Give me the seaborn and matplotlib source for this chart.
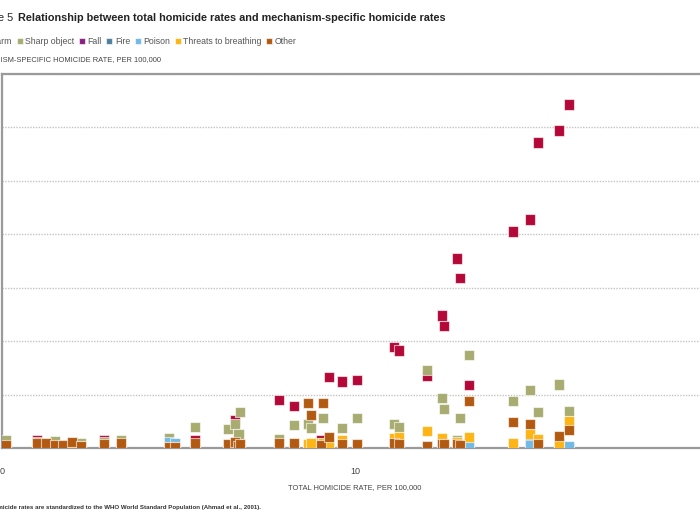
import pandas as pd
import matplotlib
matplotlib.use("Agg")
import matplotlib.pyplot as plt
import seaborn as sns

mechanisms = ["Firearm", "Sharp object", "Fall", "Fire", "Poison",
              "Threats to breathing", "Other"]
colours = ["#b30838", "#a9ac70", "#8a1e82", "#4f7f9f", "#72b9e6",
           "#fdb515", "#b35a12"]

# one entry per country: total rate and the rate for each mechanism
total_rate = [0.10, 0.99, 1.25, 1.50, 1.73, 1.98, 2.24, 2.89, 3.37, 4.73,
              4.90, 5.47, 6.40, 6.60, 6.70, 6.74, 7.85, 8.27, 8.67, 8.75,
              9.04, 9.09, 9.26, 9.63, 10.06, 11.10, 11.25, 12.04, 12.46, 12.52,
              12.89, 12.97, 13.23, 14.48, 14.96, 15.18, 15.78, 16.06]
firearm = [0.11, 0.30, 0.05, 0.05, 0.04, 0.04, 0.04, 0.30, 0.04, 0.02,
           0.02, 0.27, 0.10, 1.05, 0.05, 0.10, 1.79, 1.57, 0.10, 0.10,
           0.30, 0.10, 2.65, 2.50, 2.54, 3.78, 3.66, 2.69, 4.97, 4.56,
           7.10, 6.36, 2.36, 8.11, 8.56, 11.44, 11.89, 12.86]
sharp_object = [0.30, 0.22, 0.15, 0.26, 0.11, 0.15, 0.19, 0.22, 0.30, 0.37,
                0.15, 0.79, 0.71, 0.90, 0.52, 1.35, 0.34, 0.86, 0.90, 0.75,
                0.15, 1.12, 0.20, 0.75, 1.12, 0.90, 0.79, 2.92, 1.87, 1.46,
                0.30, 1.12, 3.48, 1.76, 2.17, 1.35, 2.37, 1.38]
fall = [0.0] * 38
fire = [0.0] * 32 + [0.19, 0.0, 0.26, 0.0, 0.0, 0.0]
poison = [0.04, 0.02, 0.04, 0.04, 0.04, 0.04, 0.04, 0.04, 0.04, 0.22,
          0.19, 0.05, 0.07, 0.05, 0.05, 0.05, 0.05, 0.05, 0.05, 0.05,
          0.05, 0.05, 0.05, 0.07, 0.07, 0.07, 0.07, 0.07, 0.07, 0.07,
          0.07, 0.07, 0.07, 0.07, 0.11, 0.07, 0.07, 0.07]
threats = [0.07, 0.04, 0.04, 0.04, 0.04, 0.04, 0.07, 0.07, 0.07, 0.02,
           0.02, 0.07, 0.04, 0.07, 0.11, 0.11, 0.07, 0.07, 0.15, 0.19,
           0.19, 0.19, 0.19, 0.30, 0.07, 0.37, 0.41, 0.64, 0.37, 0.15,
           0.20, 0.10, 0.41, 0.19, 0.52, 0.34, 0.19, 1.01]
other = [0.11, 0.19, 0.19, 0.11, 0.11, 0.22, 0.07, 0.15, 0.19, 0.04,
         0.02, 0.17, 0.15, 0.22, 0.05, 0.15, 0.19, 0.19, 1.68, 1.23,
         0.11, 1.68, 0.41, 0.15, 0.15, 0.19, 0.15, 0.07, 0.15, 0.15,
         0.15, 0.10, 1.76, 0.97, 0.90, 0.15, 0.45, 0.67]

wide = pd.DataFrame({"total": total_rate, "Firearm": firearm,
                     "Sharp object": sharp_object, "Fall": fall, "Fire": fire,
                     "Poison": poison, "Threats to breathing": threats,
                     "Other": other})
df = wide.melt(id_vars="total", var_name="mechanism", value_name="rate")

sns.set_style("white")
plt.rcParams["font.family"] = ["Liberation Sans", "DejaVu Sans"]

W, H = 700, 525
fig = plt.figure(figsize=(7, 5.25), dpi=100)
ax = fig.add_axes([2 / W, 77 / H, 706 / W, 374 / H])

sns.scatterplot(data=df, x="total", y="rate", hue="mechanism",
                hue_order=mechanisms, palette=dict(zip(mechanisms, colours)),
                marker="s", s=58, edgecolor=(1, 1, 1, 0.6), linewidth=0.8,
                ax=ax, zorder=3)

ax.set_xlim(0, 20)
ax.set_ylim(0, 14)
ax.set_xticks([0, 10, 20], ["0", "10", ""])
ax.set_yticks(range(0, 15, 2), [""] * 8)
ax.set_axisbelow(True)
ax.yaxis.grid(True, linestyle=(0, (1, 1)), color="#c4c4c4", linewidth=1)
ax.xaxis.grid(False)
for side in ["left", "bottom", "top"]:
    ax.spines[side].set_color("#9a9a9a")
    ax.spines[side].set_linewidth(1.6)
ax.spines["right"].set_visible(False)
ax.tick_params(axis="x", direction="out", length=5, width=1.5, color="#9a9a9a",
               labelsize=6.5, labelcolor="#444444", pad=9)
ax.tick_params(axis="y", length=0)
ax.set_xlabel("")
ax.set_ylabel("")

sns.move_legend(ax, "center right", bbox_to_anchor=(301 / W, 1 - 42 / H),
                bbox_transform=fig.transFigure, ncol=7, frameon=False,
                title=None, handletextpad=0.25, columnspacing=0.45,
                markerscale=0.62, fontsize=6.3, borderpad=0, handlelength=0.8)
for t in ax.get_legend().get_texts():
    t.set_color("#555555")

fig.text(13.5 / W, 1 - 18 / H, "Figure 5", ha="right", va="center",
         fontsize=7.8, color="#222222")
fig.text(18 / W, 1 - 18 / H,
         "Relationship between total homicide rates and mechanism-specific homicide rates",
         ha="left", va="center", fontsize=7.8, fontweight="bold", color="#222222")
fig.text(161 / W, 1 - 60 / H, "MECHANISM-SPECIFIC HOMICIDE RATE, PER 100,000",
         ha="right", va="center", fontsize=5.4, color="#444444")
fig.text(355 / W, 1 - 488 / H, "TOTAL HOMICIDE RATE, PER 100,000",
         ha="center", va="center", fontsize=5.4, color="#444444")
fig.text(261 / W, 1 - 508 / H,
         "Note: Homicide rates are standardized to the WHO World Standard Population (Ahmad et al., 2001).",
         ha="right", va="center", fontsize=4.4, fontweight="bold", color="#333333")

fig.savefig("out.png", dpi=100)
